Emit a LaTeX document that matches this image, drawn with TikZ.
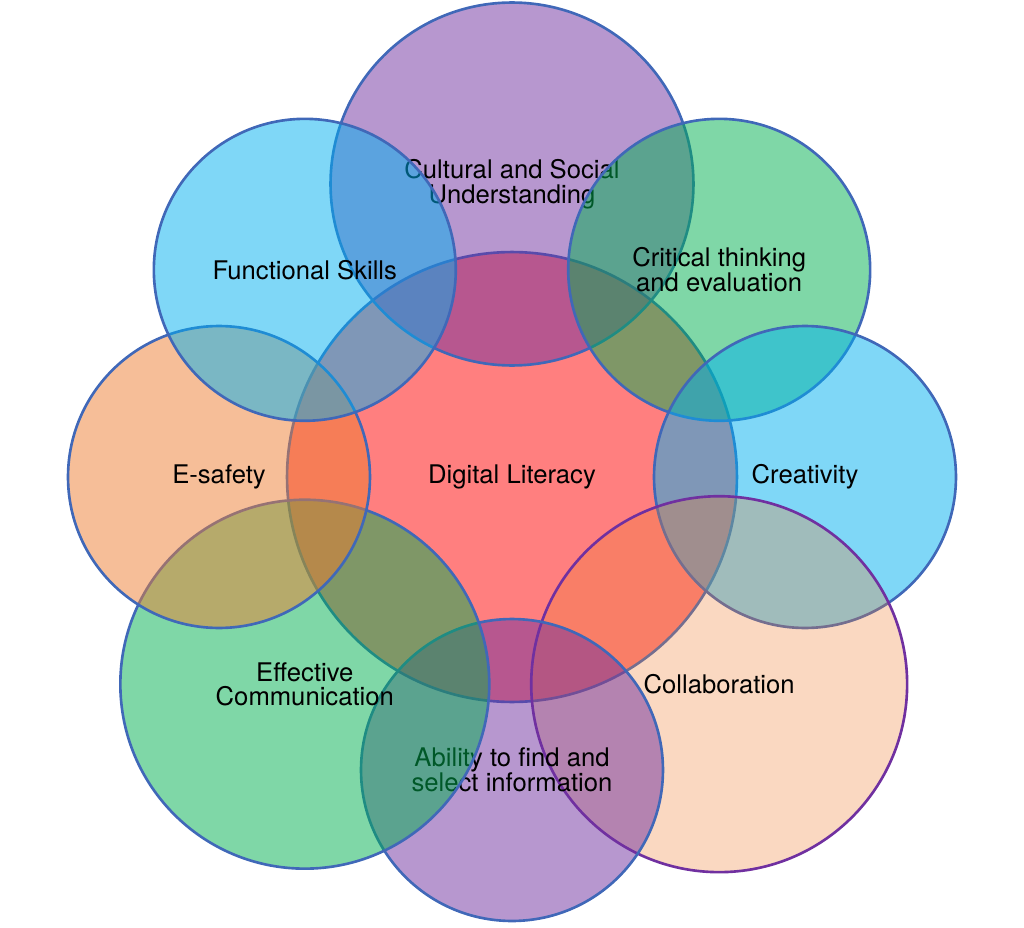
\documentclass[tikz,border=0pt]{standalone}
\usepackage{fontspec}
\setmainfont{TeX Gyre Heros}
\usepackage{tikz}
\definecolor{ringblue}{RGB}{64,104,184}
\definecolor{ringpurple}{RGB}{112,48,160}
\definecolor{litred}{RGB}{255,0,0}
\definecolor{culpurple}{RGB}{112,48,160}
\definecolor{critgreen}{RGB}{0,176,80}
\definecolor{creablue}{RGB}{0,176,240}
\definecolor{esorange}{RGB}{237,125,49}
\tikzset {
  % one circle of the diagram, see-through
  ring/.style = {draw=ringblue, circle, line width=1.5pt, minimum size=6.04cm,
    fill opacity=0.5, text opacity=1, inner sep=0pt, align=center,
    font=\fontsize{14.6}{14}\selectfont},
  % the bigger ones
  wide/.style = {minimum size=#1},
}

\begin{document}
\begin{tikzpicture}[x=0.02cm, y=0.02cm]
  \useasboundingbox (-512,-450) rectangle (512,477);

  \node[ring, fill=litred, wide=9cm] (0) at (0,0) {Digital Literacy};
  \node[ring, fill=culpurple, wide=7.26cm] (1) at (90:293) {Cultural and Social\\Understanding};
  \node[ring, fill=critgreen] (2) at (45:293) {Critical thinking\\and evaluation};
  \node[ring, fill=creablue] (3) at (0:293) {Creativity};
  \node[ring, fill=esorange, fill opacity=0.3, draw=ringpurple, wide=7.52cm] (4) at (-45:293) {Collaboration};
  \node[ring, fill=culpurple] (5) at (-90:293) {Ability to find and\\select information};
  \node[ring, fill=critgreen, wide=7.38cm] (6) at (-135:293) {Effective\\Communication};
  \node[ring, fill=esorange] (7) at (180:293) {E-safety};
  \node[ring, fill=creablue] (8) at (135:293) {Functional Skills};
\end{tikzpicture}
\end{document}
